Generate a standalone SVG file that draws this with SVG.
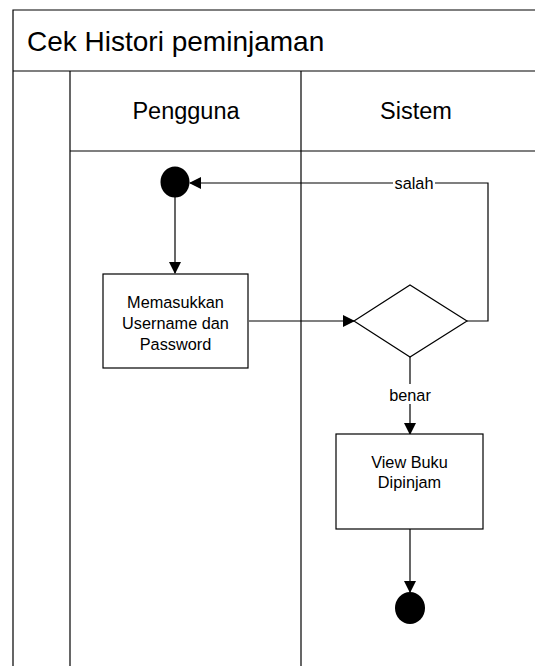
<svg xmlns="http://www.w3.org/2000/svg" width="535" height="666" viewBox="0 0 535 666">
<style>
.ln{stroke:#000;stroke-width:1.2;fill:none}
.box{fill:#fff;stroke:#000;stroke-width:1.2}
.t{font-family:"Liberation Sans",Arial,sans-serif;fill:#000;text-anchor:middle}
.s{font-size:16.3px}
.conn{stroke:#000;stroke-width:1.2;fill:none}
</style>
<defs>
<marker id="arr" markerWidth="12" markerHeight="12" refX="11" refY="6" orient="auto" markerUnits="userSpaceOnUse">
<path d="M0,0 L12,6 L0,12 Z" fill="#000"/>
</marker>
</defs>
<rect width="535" height="666" fill="#fff"/>
<g id="frame">
<path class="ln" d="M13,680 V10 H540"/>
<path class="ln" d="M13,71 H540" stroke-width="1.6"/>
<path class="ln" d="M70,71 V680"/>
<path class="ln" d="M301,71 V680"/>
<path class="ln" d="M70,151 H540"/>
<text class="t" x="27" y="51" font-size="28" style="text-anchor:start">Cek Histori peminjaman</text>
<text class="t" x="186" y="119" font-size="23.5">Pengguna</text>
<text class="t" x="416" y="119" font-size="23.5">Sistem</text>
</g>
<g id="connectors">
<path class="conn" d="M175,197 V273" marker-end="url(#arr)"/>
<path class="conn" d="M249,321 H354" marker-end="url(#arr)"/>
<path class="conn" d="M467,321 H488 V183 H190" marker-end="url(#arr)"/>
<path class="conn" d="M410,357 V434" marker-end="url(#arr)"/>
<path class="conn" d="M410,529 V592" marker-end="url(#arr)"/>
<rect x="393" y="175" width="42" height="16" fill="#fff"/>
<text class="t s" x="414" y="189">salah</text>
<rect x="388" y="384" width="44" height="20" fill="#fff"/>
<text class="t s" x="410" y="401">benar</text>
</g>
<g id="start">
<ellipse cx="175" cy="182" rx="14.5" ry="15.5" fill="#000"/>
</g>
<g id="login">
<rect class="box" x="103" y="274" width="145" height="94"/>
<text class="t s" x="175.5" y="308">Memasukkan</text>
<text class="t s" x="175.5" y="329">Username dan</text>
<text class="t s" x="175.5" y="350">Password</text>
</g>
<g id="decision">
<path class="box" d="M354,321 L410,285 L467,321 L410,357 Z"/>
</g>
<g id="view">
<rect class="box" x="336" y="434" width="147" height="95"/>
<text class="t s" x="409.5" y="468">View Buku</text>
<text class="t s" x="409.5" y="488">Dipinjam</text>
</g>
<g id="end">
<ellipse cx="410" cy="608" rx="15" ry="16" fill="#000"/>
</g>
</svg>
